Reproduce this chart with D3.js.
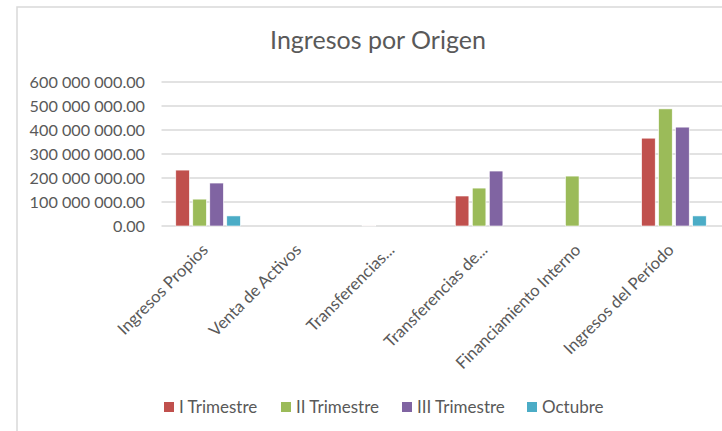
<!DOCTYPE html>
<html>
<head>
<meta charset="utf-8">
<script src="https://cdn.jsdelivr.net/npm/d3@7/dist/d3.min.js"></script>
<style>
  body { margin: 0; background: #fff; }
  svg { display: block; font-family: Lato, "Open Sans", sans-serif; }
</style>
</head>
<body>
<svg id="chart" width="722" height="431"></svg>
<script>
var categories = ["Ingresos Propios", "Venta de Activos", "Transferencias...",
  "Transferencias de...", "Financiamiento Interno", "Ingresos del Período"];
var seriesNames = ["I Trimestre", "II Trimestre", "III Trimestre", "Octubre"];
var colors = ["#C0504D", "#9BBB59", "#8064A2", "#4BACC6"];
var iTrimestre   = [233000000, 0, 1500000, 125000000, 0, 366000000];
var iiTrimestre  = [112000000, 0, 0, 158000000, 208000000, 488000000];
var iiiTrimestre = [179000000, 0, 0, 229000000, 0, 412000000];
var octubre      = [42000000, 0, 0, 0, 0, 42000000];
var yTicks = [0, 100000000, 200000000, 300000000, 400000000, 500000000, 600000000];

var values = [iTrimestre, iiTrimestre, iiiTrimestre, octubre];
var data = categories.map(function(c, i) {
  return {cat: c, vals: seriesNames.map(function(s, j) { return {name: s, v: values[j][i], color: colors[j]}; })};
});

var svg = d3.select("#chart");
var textColor = "#595959", gridColor = "#d9d9d9";

// outer frame
svg.append("rect")
  .attr("x", 17).attr("y", 7).attr("width", 720).attr("height", 440)
  .attr("fill", "none").attr("stroke", gridColor).attr("stroke-width", 1.5);

svg.append("text")
  .attr("x", 378).attr("y", 49)
  .attr("text-anchor", "middle")
  .attr("fill", textColor)
  .attr("font-size", "25px")
  .text("Ingresos por Origen");

var x0 = d3.scaleBand().domain(categories).range([161.5, 720.5]).padding(0);
var x1 = d3.scaleBand().domain(seriesNames).range([0, x0.bandwidth()])
  .paddingInner(0.2).paddingOuter(0.84);
var y = d3.scaleLinear().domain([0, 600000000]).range([226, 82]);

var fmt = function(d) { return d3.format(",.2f")(d).replace(/,/g, " "); };

var yAxis = d3.axisLeft(y).tickValues(yTicks).tickFormat(fmt).tickSize(0).tickPadding(0);
var gy = svg.append("g").attr("transform", "translate(145,0)").call(yAxis);
gy.select(".domain").remove();
gy.selectAll("text").attr("fill", textColor).attr("font-size", "16.2px")
  .attr("font-family", "Lato, 'Open Sans', sans-serif");

svg.append("g").selectAll("line")
  .data(yTicks)
  .join("line")
  .attr("x1", 161.5).attr("x2", 722)
  .attr("y1", function(d) { return y(d); }).attr("y2", function(d) { return y(d); })
  .attr("stroke", gridColor).attr("stroke-width", 1.5);

var groups = svg.append("g").selectAll("g")
  .data(data)
  .join("g")
  .attr("transform", function(d) { return "translate(" + x0(d.cat) + ",0)"; });

groups.selectAll("rect")
  .data(function(d) { return d.vals.filter(function(v) { return v.v > 0; }); })
  .join("rect")
  .attr("x", function(d) { return x1(d.name); })
  .attr("width", x1.bandwidth())
  .attr("y", function(d) { return y(d.v); })
  .attr("height", function(d) { return y(0) - y(d.v); })
  .attr("fill", function(d) { return d.color; })
  .attr("stroke", "#fff").attr("stroke-width", 0.6);

var xAxis = d3.axisBottom(x0).tickSize(0).tickPadding(0);
var gx = svg.append("g").attr("transform", "translate(0,226)").call(xAxis);
gx.select(".domain").remove();
gx.selectAll("text")
  .attr("fill", textColor).attr("font-size", "16.6px")
  .attr("font-family", "Lato, 'Open Sans', sans-serif")
  .attr("text-anchor", "end")
  .attr("dy", "0")
  .attr("transform", "translate(1,25) rotate(-45)");

// legend
var legendX = [164, 281, 402, 527];
var lg = svg.append("g").selectAll("g")
  .data(seriesNames)
  .join("g")
  .attr("transform", function(d, i) { return "translate(" + legendX[i] + ",402)"; });
lg.append("rect").attr("width", 10).attr("height", 10)
  .attr("fill", function(d, i) { return colors[i]; });
lg.append("text").attr("x", 15).attr("y", 11)
  .attr("fill", textColor).attr("font-size", "17px")
  .text(function(d) { return d; });
</script>
</body>
</html>
